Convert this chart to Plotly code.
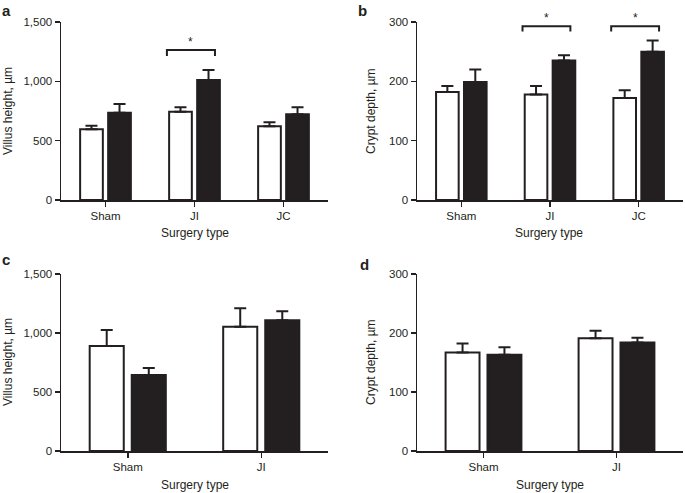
import plotly.graph_objects as go

# ---------------- data ----------------
cats3 = ["Sham", "JI", "JC"]
cats2 = ["Sham", "JI"]

a_white = [596, 744, 621]
a_white_err = [30, 37, 34]
a_black = [736, 1011, 722]
a_black_err = [73, 85, 59]

b_white = [182, 178, 172]
b_white_err = [10, 14, 13]
b_black = [199, 235, 250]
b_black_err = [21, 9, 19]

c_white = [890, 1053]
c_white_err = [135, 156]
c_black = [644, 1107]
c_black_err = [59, 77]

d_white = [167, 191]
d_white_err = [15, 13]
d_black = [163, 184]
d_black_err = [13, 8]

villus_ticks = [0, 500, 1000, 1500]
crypt_ticks = [0, 100, 200, 300]

# significance brackets: (category index, y of bracket, y of legs)
a_sig = [(1, 1264, 1213)]
b_sig = [(1, 293, 284), (2, 293, 284)]

INK = "#231f20"
FONT = "Liberation Sans, Arial, Helvetica, sans-serif"

fig = go.Figure()

panels = [
    ("x", "y", cats3, a_white, a_white_err, a_black, a_black_err),
    ("x2", "y2", cats3, b_white, b_white_err, b_black, b_black_err),
    ("x3", "y3", cats2, c_white, c_white_err, c_black, c_black_err),
    ("x4", "y4", cats2, d_white, d_white_err, d_black, d_black_err),
]

for xa, ya, cats, w, we, b, be in panels:
    fig.add_trace(go.Bar(
        x=cats, y=w, xaxis=xa, yaxis=ya,
        marker=dict(color="white", line=dict(color=INK, width=2)),
        error_y=dict(type="data", array=we, arrayminus=[0] * len(we),
                     symmetric=False, color=INK, thickness=2, width=6),
        showlegend=False, hoverinfo="skip",
    ))
    fig.add_trace(go.Bar(
        x=cats, y=b, xaxis=xa, yaxis=ya,
        marker=dict(color=INK, line=dict(color=INK, width=2)),
        error_y=dict(type="data", array=be, arrayminus=[0] * len(be),
                     symmetric=False, color=INK, thickness=2, width=6),
        showlegend=False, hoverinfo="skip",
    ))

W, H = 685, 493
xdomA = [61 / W, 328 / W]
xdomB = [417 / W, 683 / W]
ydomTop = [1 - 200 / H, 1 - 22 / H]
ydomBot = [1 - 451 / H, 1 - 274 / H]

def xaxis(domain, anchor, n):
    return dict(domain=domain, anchor=anchor, range=[-0.5, n - 0.5],
                showline=True, linecolor=INK, linewidth=1.5,
                ticks="outside", ticklen=5, tickwidth=1.5, tickcolor=INK,
                tickfont=dict(family=FONT, size=11.5, color=INK),
                showgrid=False, zeroline=False, fixedrange=True,
                automargin=False)

def yaxis(domain, anchor, rng, tickvals):
    return dict(domain=domain, anchor=anchor, range=rng,
                showline=True, linecolor=INK, linewidth=1.5,
                ticks="outside", ticklen=5, tickwidth=1.5, tickcolor=INK,
                tickvals=tickvals, tickformat=",",
                tickfont=dict(family=FONT, size=11.5, color=INK),
                showgrid=False, zeroline=False, fixedrange=True,
                automargin=False)

fig.update_layout(
    width=W, height=H,
    margin=dict(l=0, r=0, t=0, b=0, pad=0),
    paper_bgcolor="white", plot_bgcolor="white",
    barmode="group", bargap=0.37, bargroupgap=0.19,
    showlegend=False,
    font=dict(family=FONT, color=INK),
    xaxis=xaxis(xdomA, "y", 3),
    yaxis=yaxis(ydomTop, "x", [0, 1500], villus_ticks),
    xaxis2=xaxis(xdomB, "y2", 3),
    yaxis2=yaxis(ydomTop, "x2", [0, 300], crypt_ticks),
    xaxis3=xaxis(xdomA, "y3", 2),
    yaxis3=yaxis(ydomBot, "x3", [0, 1500], villus_ticks),
    xaxis4=xaxis(xdomB, "y4", 2),
    yaxis4=yaxis(ydomBot, "x4", [0, 300], crypt_ticks),
)

# significance brackets
shapes = []
annots = []
for xa, ya, sigs in [("x", "y", a_sig), ("x2", "y2", b_sig)]:
    for ci, yb, yl in sigs:
        x0, x1 = ci - 0.31, ci + 0.23
        shapes.append(dict(type="path", xref=xa, yref=ya,
                           path=f"M {x0} {yl} L {x0} {yb} L {x1} {yb} L {x1} {yl}",
                           line=dict(color=INK, width=2)))
        annots.append(dict(x=(x0 + x1) / 2, y=yb, xref=xa, yref=ya,
                           text="*", showarrow=False, yanchor="bottom",
                           yshift=-1, font=dict(family=FONT, size=12, color=INK)))

# panel letters
for txt, px, py in [("a", 0, 0), ("b", 356, 0), ("c", 0, 249), ("d", 358, 254)]:
    annots.append(dict(x=px / W, y=1 - py / H, xref="paper", yref="paper",
                       xanchor="left", yanchor="top", text=f"<b>{txt}</b>",
                       showarrow=False, font=dict(family=FONT, size=15, color=INK)))

# axis titles
for txt, px, py in [("Villus height, µm", 8, 111), ("Crypt depth, µm", 371, 111),
                    ("Villus height, µm", 8, 362), ("Crypt depth, µm", 371, 362)]:
    annots.append(dict(x=px / W, y=1 - py / H, xref="paper", yref="paper",
                       xanchor="center", yanchor="middle", text=txt, textangle=-90,
                       showarrow=False, font=dict(family=FONT, size=12, color=INK)))
for px, py in [(195, 233), (549, 233), (195, 485), (550, 485)]:
    annots.append(dict(x=px / W, y=1 - py / H, xref="paper", yref="paper",
                       xanchor="center", yanchor="middle", text="Surgery type",
                       showarrow=False, font=dict(family=FONT, size=12, color=INK)))

fig.update_layout(shapes=shapes, annotations=annots)

fig.write_html("out.html",
               config={"displayModeBar": False, "staticPlot": True},
               post_script="document.body.style.margin='0';document.body.style.overflow='hidden';")
